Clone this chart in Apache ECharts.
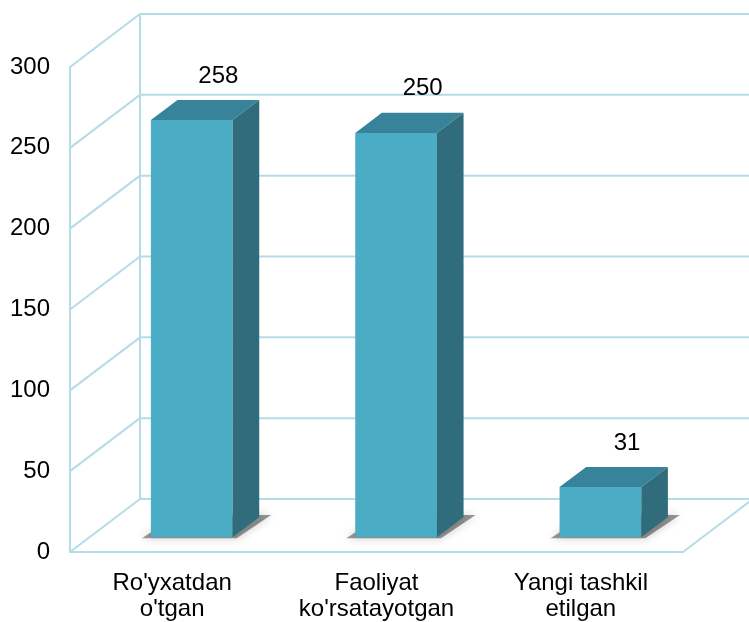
<!DOCTYPE html>
<html>
<head>
<meta charset="utf-8">
<script src="https://cdn.jsdelivr.net/npm/echarts@6/dist/echarts.min.js"></script>
<style>
html, body { margin: 0; padding: 0; background: #fff; }
#chart { width: 749px; height: 622px; }
</style>
</head>
<body>
<div id="chart"></div>
<script>
const categories = ["Ro'yxatdan\no'tgan", "Faoliyat\nko'rsatayotgan", "Yangi tashkil\netilgan"]
const values = [258, 250, 31]
const yTicks = [0, 50, 100, 150, 200, 250, 300]

// pseudo 3d settings
const DEPTH = [70, -53]
const BAR_START = 0.28
const BAR_DEPTH = 0.38
const BAR_WIDTH = 0.4
const lineColor = '#B3DCE7'
const font = 'Liberation Sans, Arial, sans-serif'

const chart = echarts.init(document.getElementById('chart'))

function renderFrame(params, api) {
  const cs = params.coordSys
  const left = cs.x
  const right = cs.x + cs.width
  const y = api.coord([0, api.value(1)])[1]
  const style = { stroke: lineColor, lineWidth: 2 }
  const children = [
    { type: 'line', shape: { x1: left, y1: y, x2: left + DEPTH[0], y2: y + DEPTH[1] }, style },
    { type: 'line', shape: { x1: left + DEPTH[0], y1: y + DEPTH[1], x2: right + DEPTH[0], y2: y + DEPTH[1] }, style }
  ]
  if (params.dataIndex === 0) {
    const yTop = api.coord([0, yTicks[yTicks.length - 1]])[1]
    children.push(
      { type: 'line', shape: { x1: left + DEPTH[0], y1: y + DEPTH[1], x2: left + DEPTH[0], y2: yTop + DEPTH[1] }, style },
      { type: 'line', shape: { x1: right, y1: y, x2: right + DEPTH[0], y2: y + DEPTH[1] }, style }
    )
  }
  return { type: 'group', children }
}

function renderBar(params, api) {
  const i = api.value(0)
  const v = api.value(1)
  const p0 = api.coord([i, 0])
  const p1 = api.coord([i, v])
  const w = api.size([1, 0])[0] * BAR_WIDTH
  const ox = DEPTH[0] * BAR_START
  const oy = DEPTH[1] * BAR_START
  const dx = DEPTH[0] * BAR_DEPTH
  const dy = DEPTH[1] * BAR_DEPTH
  const xl = p0[0] - w / 2 + ox
  const xr = xl + w
  const yb = p0[1] + oy
  const yt = p1[1] + oy
  return {
    type: 'group',
    children: [
      {
        type: 'polygon',
        shape: { points: [[xl - 9, yb + 1], [xl + dx, yb + dy - 2], [xr + dx + 12, yb + dy - 2], [xr + 4, yb + 1]] },
        style: { fill: 'rgba(0,0,0,0.4)', shadowBlur: 10, shadowColor: 'rgba(0,0,0,0.5)' }
      },
      { type: 'rect', shape: { x: xl, y: yt, width: w, height: yb - yt }, style: { fill: '#4BACC6' } },
      {
        type: 'polygon',
        shape: { points: [[xl, yt], [xl + dx, yt + dy], [xr + dx, yt + dy], [xr, yt]] },
        style: { fill: '#37849A' }
      },
      {
        type: 'polygon',
        shape: { points: [[xr, yt], [xr + dx, yt + dy], [xr + dx, yb + dy], [xr, yb]] },
        style: { fill: '#306C7C' }
      },
      {
        type: 'text',
        style: {
          text: String(v),
          x: (xl + xr) / 2 + dx,
          y: yt + dy - 12,
          align: 'center',
          verticalAlign: 'bottom',
          fill: '#000',
          fontSize: 24,
          fontFamily: font
        }
      }
    ]
  }
}

chart.setOption({
  animation: false,
  grid: { left: 70, right: 66, top: 67, bottom: 69 },
  xAxis: {
    type: 'category',
    data: categories,
    axisLine: { lineStyle: { color: lineColor, width: 2 } },
    axisTick: { show: false },
    axisLabel: { color: '#000', fontSize: 24, lineHeight: 26, margin: 18, fontFamily: font }
  },
  yAxis: {
    type: 'value',
    min: 0,
    max: 300,
    interval: 50,
    axisLine: { show: true, lineStyle: { color: lineColor, width: 2 } },
    axisTick: { show: false },
    splitLine: { show: false },
    axisLabel: { color: '#000', fontSize: 24, margin: 20, fontFamily: font }
  },
  series: [
    {
      type: 'custom',
      z: 1,
      silent: true,
      renderItem: renderFrame,
      data: yTicks.map(t => [0, t])
    },
    {
      type: 'custom',
      z: 3,
      renderItem: renderBar,
      data: values.map((v, i) => [i, v])
    }
  ]
})
</script>
</body>
</html>
